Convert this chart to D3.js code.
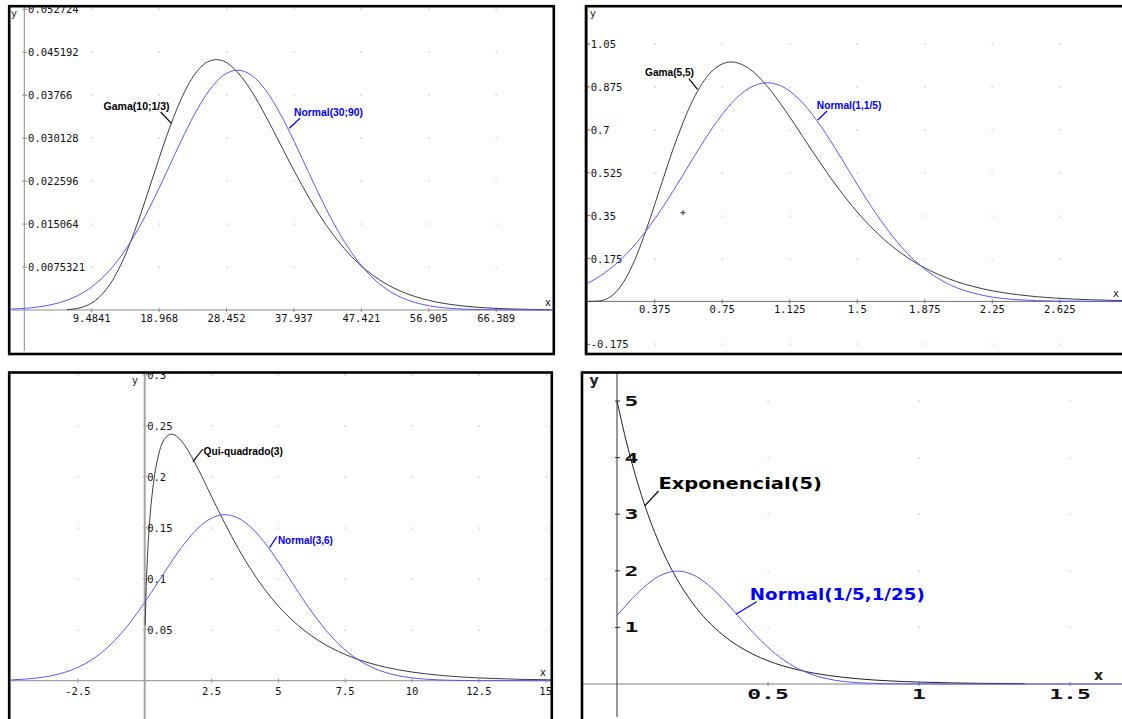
<!DOCTYPE html>
<html>
<head>
<meta charset="utf-8">
<script src="https://cdn.jsdelivr.net/npm/d3@7"></script>
<style>
    body { margin: 0; background: #fff; }
    svg { display: block; }
</style>
</head>
<body>
<svg id="chart" width="1122" height="719"></svg>
<script>
// Gama(10;1/3) vs Normal(30;90)
const gama1X = [6, 8, 10, 12, 14, 16, 18, 20, 22, 24, 26, 27, 28, 30, 32, 34, 36, 38, 40, 42, 44, 46, 48, 50, 52, 54, 56, 58, 60, 64, 68, 74]
const gama1Y = [0.0000636, 0.000435, 0.001664, 0.00441, 0.009066, 0.01548, 0.02294, 0.03041, 0.0368, 0.04137, 0.04363, 0.0439, 0.04367, 0.0417, 0.03829, 0.03392, 0.02913, 0.02431, 0.01982, 0.01578, 0.01232, 0.009437, 0.007103, 0.005265, 0.003848, 0.002777, 0.001977, 0.001391, 0.000969, 0.000457, 0.000208, 0.00006]
const norm1X = [-2, 0, 2, 4, 6, 8, 10, 12, 14, 16, 18, 20, 22, 24, 26, 28, 30, 32, 34, 36, 38, 40, 42, 44, 46, 48, 50, 52, 54, 56, 58, 60, 64, 68, 75]
const norm1Y = [0.000142, 0.000283, 0.00054, 0.000984, 0.001714, 0.002857, 0.004558, 0.006951, 0.010143, 0.014155, 0.018895, 0.02413, 0.02947, 0.03443, 0.03847, 0.04113, 0.042052, 0.04113, 0.03847, 0.03443, 0.02947, 0.02413, 0.018895, 0.014155, 0.010143, 0.006951, 0.004558, 0.002857, 0.001714, 0.000984, 0.00054, 0.000283, 0.000068, 0.000014, 0]
const p1XTicks = [9.4841, 18.968, 28.452, 37.937, 47.421, 56.905, 66.389]
const p1YTicks = [0.0075321, 0.015064, 0.022596, 0.030128, 0.03766, 0.045192, 0.052724]

// Gama(5,5) vs Normal(1,1/5)
const p2X = [0, 0.05, 0.1, 0.15, 0.2, 0.25, 0.3, 0.35, 0.4, 0.5, 0.6, 0.7, 0.8, 0.9, 1.0, 1.1, 1.2, 1.3, 1.4, 1.5, 1.6, 1.7, 1.8, 1.9, 2.0, 2.2, 2.4, 2.6, 2.8, 3.0]
const gama2Y = [0, 0.000634, 0.0079, 0.03114, 0.07664, 0.14572, 0.23533, 0.33954, 0.45112, 0.66801, 0.84016, 0.94406, 0.97684, 0.94903, 0.87734, 0.7791, 0.66926, 0.5591, 0.45612, 0.36458, 0.28626, 0.22127, 0.16869, 0.12702, 0.09458, 0.05094, 0.02654, 0.01345, 0.00666, 0.0032]
const norm2Y = [0.07322, 0.09342, 0.11774, 0.14654, 0.1801, 0.2186, 0.26205, 0.31024, 0.36269, 0.47749, 0.59797, 0.71233, 0.80717, 0.87004, 0.89206, 0.87004, 0.80717, 0.71233, 0.59797, 0.47749, 0.36269, 0.26205, 0.1801, 0.11774, 0.07322, 0.02437, 0.00664, 0.00148, 0.00027, 0.00004]
const p2XTicks = [0.375, 0.75, 1.125, 1.5, 1.875, 2.25, 2.625]
const p2YTicks = [-0.175, 0.175, 0.35, 0.525, 0.7, 0.875, 1.05]

// Qui-quadrado(3) vs Normal(3,6)
const chiX = [0.019, 0.05, 0.1, 0.2, 0.3, 0.5, 0.75, 1, 1.25, 1.5, 2, 2.5, 3, 3.5, 4, 4.5, 5, 5.5, 6, 6.5, 7, 7.5, 8, 9, 10, 11, 12, 13, 14, 15.2]
const chiY = [0.0545, 0.087, 0.12, 0.1614, 0.1881, 0.2197, 0.2375, 0.242, 0.2387, 0.2308, 0.2076, 0.1807, 0.1542, 0.1297, 0.108, 0.0892, 0.0732, 0.0598, 0.0487, 0.0394, 0.0319, 0.0257, 0.0207, 0.0133, 0.0085, 0.0054, 0.0034, 0.0022, 0.0014, 0.0008]
const norm3X = [-5, -4.5, -4, -3.5, -3, -2.5, -2, -1.5, -1, -0.5, 0, 0.5, 1, 1.5, 2, 2.5, 3, 3.5, 4, 4.5, 5, 5.5, 6, 6.5, 7, 7.5, 8, 8.5, 9, 9.5, 10, 11, 12, 13, 15.2]
const norm3Y = [0.00079, 0.0015, 0.00275, 0.00482, 0.00811, 0.01309, 0.02028, 0.03013, 0.04293, 0.05868, 0.07693, 0.09675, 0.1167, 0.13502, 0.14985, 0.15951, 0.16287, 0.15951, 0.14985, 0.13502, 0.1167, 0.09675, 0.07693, 0.05868, 0.04293, 0.03013, 0.02028, 0.01309, 0.00811, 0.00482, 0.00275, 0.00079, 0.00019, 0.00004, 0]
const p3XTicks = [-2.5, 2.5, 5, 7.5, 10, 12.5, 15]
const p3YTicks = [0.05, 0.1, 0.15, 0.2, 0.25, 0.3]

// Exponencial(5) vs Normal(1/5,1/25)
const expX = [0, 0.025, 0.05, 0.075, 0.1, 0.125, 0.15, 0.175, 0.2, 0.25, 0.3, 0.35, 0.4, 0.45, 0.5, 0.6, 0.7, 0.8, 0.9, 1.0, 1.1, 1.2, 1.35]
const expY = [5, 4.4125, 3.894, 3.4365, 3.0327, 2.6763, 2.3618, 2.0843, 1.8394, 1.4325, 1.1157, 0.8689, 0.6767, 0.527, 0.4104, 0.2489, 0.151, 0.0916, 0.0555, 0.0337, 0.0204, 0.0124, 0.0059]
const norm4X = [0, 0.025, 0.05, 0.075, 0.1, 0.125, 0.15, 0.175, 0.2, 0.25, 0.3, 0.35, 0.4, 0.45, 0.5, 0.55, 0.6, 0.65, 0.7, 0.8, 0.9, 1.0, 1.1, 1.7]
const norm4Y = [1.2099, 1.3603, 1.5057, 1.6408, 1.7603, 1.8593, 1.9333, 1.9792, 1.9947, 1.9333, 1.7603, 1.5057, 1.2099, 0.9132, 0.6476, 0.4314, 0.27, 0.1587, 0.0876, 0.0222, 0.0044, 0.0007, 0.0001, 0]
const p4XTicks = [0.5, 1, 1.5]
const p4YTicks = [1, 2, 3, 4, 5]

const darkCol = '#3c3c3c'
const blueCol = '#5757ff'
const labelBlue = '#0000ff'

// one options object per panel, built from the arrays above
const panels = [
    {
        frame: [9.2, 6.2, 544.6, 347.8],
        xDom: [0, 66.389], xRng: [24.3, 496.2],
        yDom: [0, 0.052724], yRng: [310, 9.3],
        xTicks: p1XTicks, yTicks: p1YTicks,
        xSpan: [12, 555], ySpan: [6, 351],
        axisCol: '#8c8c8c', xAxisCol: '#8c8c8c', axisW: 1,
        fs: 10.5, bold: false, charW: null, xLblDy: 7.5, yLblDx: 3.8,
        curves: [[gama1X, gama1Y, darkCol], [norm1X, norm1Y, blueCol]],
        labels: [
            { t: 'Gama(10;1/3)', x: 103.6, y: 109.5, w: 66, c: '#000', lead: [160.7, 112, 171.4, 123.3] },
            { t: 'Normal(30;90)', x: 294, y: 115.8, w: 69, c: labelBlue, lead: [300, 118.3, 289.3, 128.3] }
        ],
        lblFont: '"Liberation Sans", Arial, sans-serif', lblSize: 11.5,
        xName: [548, 302], yName: [14, 13], nameSize: 10, nameBold: false
    },
    {
        frame: [586, 6.2, 600, 347.8],
        xDom: [0, 2.625], xRng: [587.2, 1059.8],
        yDom: [-0.175, 1.05], yRng: [344.3, 44],
        xTicks: p2XTicks, yTicks: p2YTicks,
        xSpan: [587, 1122], ySpan: [6, 354],
        axisCol: '#6e6e6e', xAxisCol: '#6e6e6e', axisW: 1,
        fs: 10.5, bold: false, charW: null, xLblDy: 7.5, yLblDx: 3.5,
        curves: [[p2X, gama2Y, darkCol], [p2X, norm2Y, blueCol]],
        labels: [
            { t: 'Gama(5,5)', x: 645, y: 76.3, w: 49, c: '#000', lead: [688.9, 78.7, 697.5, 89.3] },
            { t: 'Normal(1,1/5)', x: 816.8, y: 109.4, w: 64.6, c: labelBlue, lead: [827, 111, 817.8, 120] }
        ],
        lblFont: '"Liberation Sans", Arial, sans-serif', lblSize: 11.5,
        xName: [1116, 293], yName: [593, 13.3], nameSize: 10, nameBold: false,
        cursor: [683, 212.7]
    },
    {
        frame: [9.2, 372.5, 542.6, 400],
        xDom: [-2.5, 15], xRng: [77.9, 545.7],
        yDom: [0, 0.3], yRng: [680.7, 375],
        xTicks: p3XTicks, yTicks: p3YTicks,
        xSpan: [11, 552], ySpan: [373, 719],
        axisCol: '#a6a6a6', xAxisCol: '#8c8c8c', axisW: 2,
        fs: 10.5, bold: false, charW: null, xLblDy: 10, yLblDx: 2.5,
        curves: [[chiX, chiY, darkCol], [norm3X, norm3Y, blueCol]],
        labels: [
            { t: 'Qui-quadrado(3)', x: 203.6, y: 454.5, w: 79.3, c: '#000', lead: [202.9, 449, 192.9, 461.7] },
            { t: 'Normal(3,6)', x: 277.9, y: 544.3, w: 55, c: labelBlue, lead: [276.8, 536.7, 269.6, 547.7] }
        ],
        lblFont: '"Liberation Sans", Arial, sans-serif', lblSize: 11.5,
        xName: [543, 672], yName: [135, 380], nameSize: 10, nameBold: false
    },
    {
        frame: [582, 372.5, 600, 400],
        xDom: [0, 1.5], xRng: [617, 1070],
        yDom: [0, 5], yRng: [684, 401],
        xTicks: p4XTicks, yTicks: p4YTicks,
        xSpan: [583, 1122], ySpan: [373, 717],
        axisCol: '#333', xAxisCol: '#808080', axisW: 1,
        fs: 14, bold: true, charW: 13.9, xLblDy: 9.5, yLblDx: 7.5,
        curves: [[expX, expY, '#222'], [norm4X, norm4Y, blueCol]],
        labels: [
            { t: 'Exponencial(5)', x: 658.5, y: 488.6, w: 163.5, c: '#000', lead: [658.5, 491, 645, 505.7] },
            { t: 'Normal(1/5,1/25)', x: 749.8, y: 599.6, w: 175, c: labelBlue, lead: [756.7, 601.7, 735.9, 614.3] }
        ],
        lblFont: '"DejaVu Sans", Verdana, sans-serif', lblSize: 15,
        xName: [1098.5, 675], yName: [594, 380], nameSize: 14, nameBold: true
    }
]

const svg = d3.select('#chart')
const defs = svg.append('defs')

panels.forEach(function (p, i) {
    const x = d3.scaleLinear().domain(p.xDom).range(p.xRng)
    const y = d3.scaleLinear().domain(p.yDom).range(p.yRng)
    const [fx, fy, fw, fh] = p.frame

    defs.append('clipPath').attr('id', 'clip' + i)
        .append('rect')
        .attr('x', fx).attr('y', fy).attr('width', fw).attr('height', fh)

    const g = svg.append('g').attr('clip-path', 'url(#clip' + i + ')')

    // dotted grid: one grey dot per tick crossing
    p.xTicks.forEach(function (xv) {
        p.yTicks.forEach(function (yv) {
            g.append('rect')
                .attr('x', Math.round(x(xv)) - 0.5)
                .attr('y', Math.round(y(yv)) - 0.5)
                .attr('width', 1.2).attr('height', 1.2)
                .attr('fill', '#b4b4b4')
        })
    })

    // axes
    const x0 = x(0), y0 = y(0)
    g.append('line')
        .attr('x1', p.xSpan[0]).attr('x2', p.xSpan[1])
        .attr('y1', y0).attr('y2', y0)
        .attr('stroke', p.xAxisCol).attr('stroke-width', 1)
    g.append('line')
        .attr('x1', x0).attr('x2', x0)
        .attr('y1', p.ySpan[0]).attr('y2', p.ySpan[1])
        .attr('stroke', p.axisCol).attr('stroke-width', p.axisW)

    // tick marks
    g.selectAll('.xt').data(p.xTicks).enter().append('line')
        .attr('x1', d => x(d)).attr('x2', d => x(d))
        .attr('y1', y0 - 2).attr('y2', y0 + 2)
        .attr('stroke', p.xAxisCol)
    g.selectAll('.yt').data(p.yTicks).enter().append('line')
        .attr('x1', x0 - 2).attr('x2', x0 + 3)
        .attr('y1', d => y(d)).attr('y2', d => y(d))
        .attr('stroke', p.axisCol)

    const tickFont = '"DejaVu Sans Mono", "Liberation Mono", monospace'

    const xl = g.selectAll('.xl').data(p.xTicks).enter().append('text')
        .attr('x', d => x(d))
        .attr('y', y0 + p.xLblDy)
        .attr('text-anchor', 'middle')
        .attr('dominant-baseline', 'central')
        .style('font-family', tickFont)
        .style('font-size', p.fs + 'px')
        .style('font-weight', p.bold ? 'bold' : 'normal')
        .attr('fill', '#111')
        .text(d => String(d))

    const yl = g.selectAll('.yl').data(p.yTicks).enter().append('text')
        .attr('x', x0 + p.yLblDx)
        .attr('y', d => y(d))
        .attr('dominant-baseline', 'central')
        .style('font-family', tickFont)
        .style('font-size', p.fs + 'px')
        .style('font-weight', p.bold ? 'bold' : 'normal')
        .attr('fill', '#111')
        .text(d => String(d))

    if (p.charW) {
        // the big panel uses a wide, stretched face
        [xl, yl].forEach(function (sel) {
            sel.attr('textLength', d => String(d).length * p.charW)
                .attr('lengthAdjust', 'spacingAndGlyphs')
        })
    }

    // axis names
    ;[['x', p.xName], ['y', p.yName]].forEach(function (n) {
        g.append('text')
            .attr('x', n[1][0]).attr('y', n[1][1])
            .attr('text-anchor', 'middle')
            .attr('dominant-baseline', 'central')
            .style('font-family', '"DejaVu Sans", sans-serif')
            .style('font-size', p.nameSize + 'px')
            .style('font-weight', p.nameBold ? 'bold' : 'normal')
            .attr('fill', '#222')
            .text(n[0])
    })

    // curves
    const line = d3.line()
        .x(d => x(d[0]))
        .y(d => y(d[1]))
        .curve(d3.curveMonotoneX)

    p.curves.forEach(function (c) {
        g.append('path')
            .datum(d3.zip(c[0], c[1]))
            .attr('d', line)
            .attr('fill', 'none')
            .attr('stroke', c[2])
            .attr('stroke-width', 1)
    })

    // curve labels with leader lines
    p.labels.forEach(function (l) {
        g.append('line')
            .attr('x1', l.lead[0]).attr('y1', l.lead[1])
            .attr('x2', l.lead[2]).attr('y2', l.lead[3])
            .attr('stroke', l.c).attr('stroke-width', 1.2)
        g.append('text')
            .attr('x', l.x).attr('y', l.y)
            .attr('textLength', l.w)
            .attr('lengthAdjust', 'spacingAndGlyphs')
            .style('font-family', p.lblFont)
            .style('font-size', p.lblSize + 'px')
            .style('font-weight', 'bold')
            .attr('fill', l.c)
            .text(l.t)
    })

    if (p.cursor) {
        const [cx, cy] = p.cursor
        g.append('path')
            .attr('d', `M${cx - 2.5},${cy}H${cx + 2.5}M${cx},${cy - 2.5}V${cy + 2.5}`)
            .attr('stroke', '#333').attr('stroke-width', 1)
    }

    // frame
    svg.append('rect')
        .attr('x', fx).attr('y', fy).attr('width', fw).attr('height', fh)
        .attr('fill', 'none')
        .attr('stroke', '#000')
        .attr('stroke-width', 2.6)
})
</script>
</body>
</html>
